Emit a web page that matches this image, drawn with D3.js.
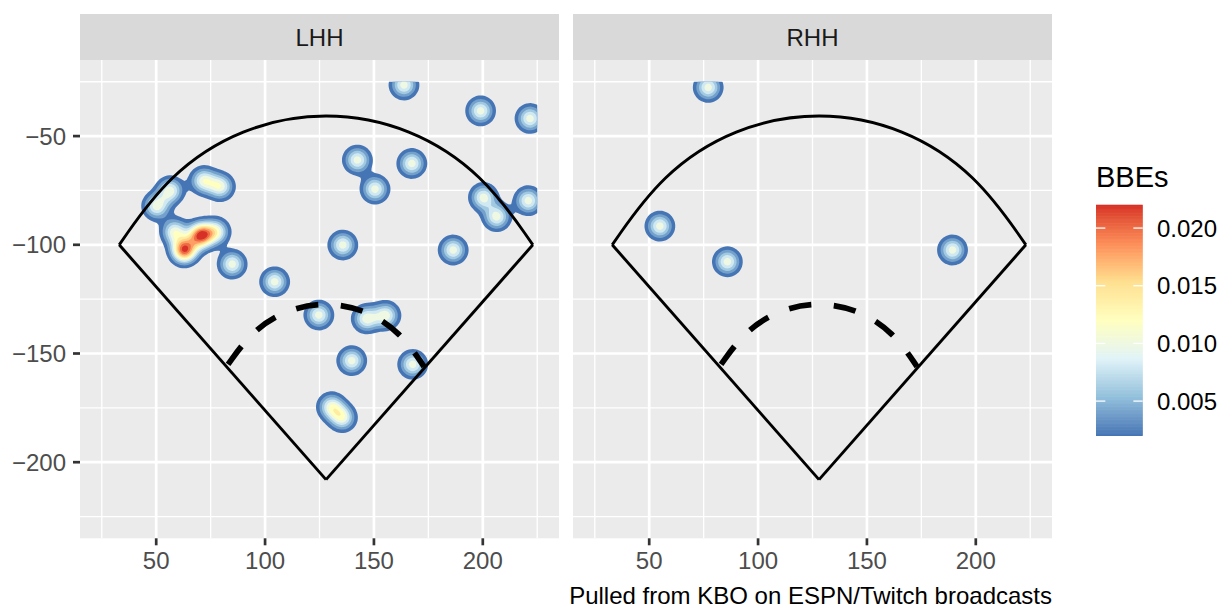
<!DOCTYPE html>
<html>
<head>
<meta charset="utf-8">
<script src="https://cdn.jsdelivr.net/npm/d3@7"></script>
<style>
  body { margin: 0; background: #fff; }
  text { font-family: "Liberation Sans", Arial, Helvetica, sans-serif; }
</style>
</head>
<body>
<div id="chart"></div>
<script>
// ---- data --------------------------------------------------------------
const facets = ["LHH", "RHH"];

// batted ball locations (hc_x, -hc_y)
const lhhX = [163.8, 199.0, 221.7, 142.4, 167.4, 150.5, 71.8, 79.5, 50.2, 56.4,
              62.5, 63.5, 70.0, 71.0, 77.5, 58.5, 84.9, 104.4, 135.7, 186.4, 200.3,
              206.4, 220.9, 124.7, 146.5, 155.5, 139.8, 167.8, 130.5, 135.5];
const lhhY = [-26.5, -38.4, -41.9, -61.0, -62.6, -74.4, -70.5, -73.2, -82.2, -75.1,
              -102.8, -102.0, -96.0, -95.3, -94.0, -94.0, -108.9, -117.0, -100.1, -102.4, -78.2,
              -87.1, -79.7, -132.3, -134.0, -132.5, -153.3, -155.0, -174.5, -179.5];
const rhhX = [77.1, 54.9, 85.9, 189.3];
const rhhY = [-27.6, -91.4, -107.8, -102.4];

// density contour breaks and legend ticks
const levels = [0.002, 0.004, 0.006, 0.008, 0.010, 0.012, 0.014, 0.016, 0.018, 0.020, 0.022];
const legendTicks = [0.005, 0.010, 0.015, 0.020];
const xTicks = [50, 100, 150, 200];
const yTicks = [-50, -100, -150, -200];
const xLimits = [25, 225];
const yLimits = [-225, -25];

// generic field outline
const homePlate = [128, -208];
const leftCorner = [33, -100];
const rightCorner = [223, -100];
const infieldStart = [83, -155];
const infieldEnd = [173, -156];
const fieldCurvature = -0.65;

const palette = ["#4575B4", "#91BFDB", "#E0F3F8", "#FFFFBF", "#FEE090", "#FC8D59", "#D73027"];

// ---- layout ------------------------------------------------------------
const width = 1221, height = 608;
const panelLefts = [80, 573], panelW = 479;
const panelTop = 60, panelBottom = 538.3, stripTop = 14;
const fontSize = 24;

const svg = d3.select("#chart").append("svg")
    .attr("width", width).attr("height", height);

const expand = (lim) => { const d = (lim[1] - lim[0]) * 0.05; return [lim[0] - d, lim[1] + d]; };
const y = d3.scaleLinear().domain(expand(yLimits)).range([panelBottom, panelTop]);

const color = d3.scaleLinear()
    .domain(palette.map((c, i) => levels[0] + i * (levels[levels.length - 1] - levels[0]) / (palette.length - 1)))
    .range(palette)
    .interpolate(d3.interpolateLab);

// 2d kernel density on a grid over the limits
const bw = 3.8, peak = 0.0112, step = 1;
const nx = Math.round((xLimits[1] - xLimits[0]) / step) + 1;
const ny = Math.round((yLimits[1] - yLimits[0]) / step) + 1;
function density(xs, ys) {
  const vals = new Float64Array(nx * ny);
  for (let j = 0; j < ny; j++) {
    const gy = yLimits[1] - j * step;
    for (let i = 0; i < nx; i++) {
      const gx = xLimits[0] + i * step;
      let s = 0;
      for (let k = 0; k < xs.length; k++) {
        const dx = gx - xs[k], dy = gy - ys[k];
        s += Math.exp(-(dx * dx + dy * dy) / (2 * bw * bw));
      }
      vals[j * nx + i] = s * peak;
    }
  }
  return d3.contours().size([nx, ny]).thresholds(levels)(Array.from(vals));
}

// port of grid's calcControlPoints (angle = 90, ncp = 5)
function curvePoints(p1, p2, curvature, ncp = 5) {
  const [x1, y1] = p1, [x2, y2] = p2;
  const xm = (x1 + x2) / 2, ym = (y1 + y2) / 2;
  const dx = x2 - x1, dy = y2 - y1;
  const cornerx = xm - (y1 - ym);
  const cornery = ym + (x1 - xm);
  const beta = -Math.atan((cornery - y1) / (cornerx - x1));
  const sinb = Math.sin(beta), cosb = Math.cos(beta);
  let nx2 = x1 + dx * cosb - dy * sinb;
  const ny2 = y1 + dy * cosb + dx * sinb;
  const scalex = (ny2 - y1) / (nx2 - x1);
  const nx1 = x1 * scalex;
  nx2 = nx2 * scalex;
  const ratio = 2 * Math.sin(Math.atan(curvature)) ** 2;
  const origin = curvature - curvature / ratio;
  const dir = curvature > 0 ? 1 : -1;
  const omx = (nx1 + nx2) / 2, omy = (y1 + ny2) / 2;
  const tox = omx + origin * (nx2 - nx1) / 2;
  const toy = omy + origin * (ny2 - y1) / 2;
  const ox = omx + (toy - omy), oy = omy - (tox - omx);
  const maxtheta = Math.PI + Math.sign(origin * dir) * 2 * Math.atan(Math.abs(origin));
  const pts = [[x1, y1]];
  for (let k = 1; k <= ncp; k++) {
    const th = dir * maxtheta * k / (ncp + 1);
    const c = Math.cos(th), s = Math.sin(th);
    const cpx = (ox + (nx1 - ox) * c - (y1 - oy) * s) / scalex;
    const cpy = oy + (y1 - oy) * c + (nx1 - ox) * s;
    pts.push([x1 + (cpx - x1) * Math.cos(-beta) - (cpy - y1) * Math.sin(-beta),
              y1 + (cpy - y1) * Math.cos(-beta) + (cpx - x1) * Math.sin(-beta)]);
  }
  pts.push([x2, y2]);
  return pts;
}

const panelData = [[lhhX, lhhY], [rhhX, rhhY]];

facets.forEach((name, f) => {
  const left = panelLefts[f];
  const x = d3.scaleLinear().domain(expand(xLimits)).range([left, left + panelW]);
  const g = svg.append("g");

  // strip
  g.append("rect").attr("x", left).attr("y", stripTop)
      .attr("width", panelW).attr("height", panelTop - stripTop).attr("fill", "#D9D9D9");
  g.append("text").attr("x", left + panelW / 2).attr("y", 45.5)
      .attr("text-anchor", "middle").attr("font-size", fontSize).attr("fill", "#1A1A1A")
      .text(name);

  // panel + grid
  g.append("rect").attr("x", left).attr("y", panelTop)
      .attr("width", panelW).attr("height", panelBottom - panelTop).attr("fill", "#EBEBEB");
  const minorX = xTicks.map(t => t - 25).concat([xTicks[xTicks.length - 1] + 25]);
  const minorY = yTicks.map(t => t + 25).concat([yTicks[yTicks.length - 1] - 25]);
  g.selectAll(null).data(minorX).join("line")
      .attr("x1", d => x(d)).attr("x2", d => x(d)).attr("y1", panelTop).attr("y2", panelBottom)
      .attr("stroke", "#fff").attr("stroke-width", 1.35);
  g.selectAll(null).data(minorY).join("line")
      .attr("y1", d => y(d)).attr("y2", d => y(d)).attr("x1", left).attr("x2", left + panelW)
      .attr("stroke", "#fff").attr("stroke-width", 1.35);
  g.selectAll(null).data(xTicks).join("line")
      .attr("x1", d => x(d)).attr("x2", d => x(d)).attr("y1", panelTop).attr("y2", panelBottom)
      .attr("stroke", "#fff").attr("stroke-width", 2.7);
  g.selectAll(null).data(yTicks).join("line")
      .attr("y1", d => y(d)).attr("y2", d => y(d)).attr("x1", left).attr("x2", left + panelW)
      .attr("stroke", "#fff").attr("stroke-width", 2.7);

  // density contours, clipped to the density grid
  const clipId = "clip" + f;
  svg.append("clipPath").attr("id", clipId).append("rect")
      .attr("x", x(xLimits[0])).attr("y", y(yLimits[1]))
      .attr("width", x(xLimits[1]) - x(xLimits[0])).attr("height", y(yLimits[0]) - y(yLimits[1]));
  const proj = d3.geoTransform({
    point(px, py) {
      this.stream.point(x(xLimits[0] + (px - 0.5) * step), y(yLimits[1] - (py - 0.5) * step));
    }
  });
  const [xs, ys] = panelData[f];
  g.append("g").attr("clip-path", `url(#${clipId})`)
    .selectAll("path").data(density(xs, ys)).join("path")
      .attr("d", d3.geoPath(proj))
      .attr("fill", d => color(d.value));

  // field
  const line = d3.line().x(d => x(d[0])).y(d => y(d[1]));
  const curve = d3.line().x(d => x(d[0])).y(d => y(d[1])).curve(d3.curveBasis);
  g.append("path").attr("d", curve(curvePoints(leftCorner, rightCorner, fieldCurvature)))
      .attr("fill", "none").attr("stroke", "#000").attr("stroke-width", 2.9);
  g.append("path").attr("d", line([leftCorner, homePlate]))
      .attr("fill", "none").attr("stroke", "#000").attr("stroke-width", 2.9);
  g.append("path").attr("d", line([homePlate, rightCorner]))
      .attr("fill", "none").attr("stroke", "#000").attr("stroke-width", 2.9);
  g.append("path").attr("d", curve(curvePoints(infieldStart, infieldEnd, fieldCurvature)))
      .attr("fill", "none").attr("stroke", "#000").attr("stroke-width", 5.7)
      .attr("stroke-dasharray", "22.5,22.5");

  // x axis
  const xa = g.append("g").attr("transform", `translate(0,${panelBottom})`);
  xa.selectAll("line").data(xTicks).join("line")
      .attr("x1", d => x(d)).attr("x2", d => x(d)).attr("y1", 0).attr("y2", 7)
      .attr("stroke", "#333").attr("stroke-width", 2.7);
  xa.selectAll("text").data(xTicks).join("text")
      .attr("x", d => x(d)).attr("y", 31).attr("text-anchor", "middle")
      .attr("font-size", fontSize).attr("fill", "#4D4D4D").text(d => d);
});

// y axis (left panel only)
const ya = svg.append("g").attr("transform", `translate(${panelLefts[0]},0)`);
ya.selectAll("line").data(yTicks).join("line")
    .attr("x1", -7).attr("x2", 0).attr("y1", d => y(d)).attr("y2", d => y(d))
    .attr("stroke", "#333").attr("stroke-width", 2.7);
ya.selectAll("text").data(yTicks).join("text")
    .attr("x", -14).attr("y", d => y(d) + 8.5).attr("text-anchor", "end")
    .attr("font-size", fontSize).attr("fill", "#4D4D4D")
    .text(d => "\u2212" + Math.abs(d));

// legend
const lg = svg.append("g");
const barX = 1096, barW = 46.7;
const ly = d3.scaleLinear().domain([levels[0], levels[levels.length - 1]]).range([435.7, 205]);
lg.append("text").attr("x", barX).attr("y", 187).attr("font-size", 29).attr("fill", "#000").text("BBEs");
const nbin = 300;
const bins = d3.range(nbin).map(i => levels[0] + (i + 0.5) * (levels[levels.length - 1] - levels[0]) / nbin);
const binH = (ly.range()[0] - ly.range()[1]) / nbin;
lg.selectAll("rect").data(bins).join("rect")
    .attr("x", barX).attr("width", barW)
    .attr("y", d => ly(d) - binH / 2 - 0.3).attr("height", binH + 0.6)
    .attr("fill", d => color(d));
lg.selectAll("line.tl").data(legendTicks).join("line").attr("class", "tl")
    .attr("x1", barX).attr("x2", barX + barW / 5).attr("y1", d => ly(d)).attr("y2", d => ly(d))
    .attr("stroke", "#fff").attr("stroke-width", 1.3);
lg.selectAll("line.tr").data(legendTicks).join("line").attr("class", "tr")
    .attr("x1", barX + barW * 4 / 5).attr("x2", barX + barW).attr("y1", d => ly(d)).attr("y2", d => ly(d))
    .attr("stroke", "#fff").attr("stroke-width", 1.3);
lg.selectAll("text.lab").data(legendTicks).join("text").attr("class", "lab")
    .attr("x", 1157).attr("y", d => ly(d) + 8.5).attr("font-size", fontSize).attr("fill", "#000")
    .text(d => d3.format(".3f")(d));

// caption
svg.append("text").attr("x", panelLefts[1] + panelW).attr("y", 604)
    .attr("text-anchor", "end").attr("font-size", fontSize).attr("fill", "#000")
    .text("Pulled from KBO on ESPN/Twitch broadcasts");
</script>
</body>
</html>
